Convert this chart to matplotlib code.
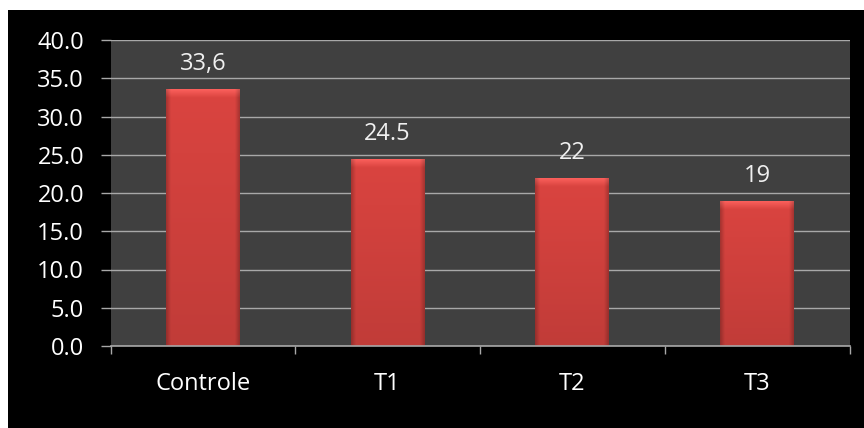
import matplotlib
matplotlib.use("Agg")
import matplotlib.pyplot as plt
import numpy as np
from matplotlib.patches import Rectangle

categories = ["Controle", "T1", "T2", "T3"]
values = [33.6, 24.5, 22, 19]
value_labels = ["33,6", "24.5", "22", "19"]
yticks = [0, 5, 10, 15, 20, 25, 30, 35, 40]
ytick_labels = ["0.0", "5.0", "10.0", "15.0", "20.0", "25.0", "30.0", "35.0", "40.0"]

plt.rcParams['font.family'] = ['Open Sans', 'DejaVu Sans']

fig = plt.figure(figsize=(8.64, 4.28), dpi=100)
fig.patch.set_facecolor("white")
bg = Rectangle((8/864, 0), 1, 1 - 10/428, transform=fig.transFigure,
               facecolor="black", edgecolor="none", zorder=-10)
fig.add_artist(bg)

ax = fig.add_axes([110.5/864, 1 - 346/428, (849.5 - 110.5)/864, (346 - 40)/428])
ax.set_zorder(1)
ax.set_facecolor("#404040")

x = np.arange(len(categories))
bw = 0.4
bars = ax.bar(x, values, width=bw, color="#d4413e", edgecolor="none", zorder=3)

# bevel/gradient shading for each bar
ny, nx = 200, 60
for b in bars:
    x0, y0 = b.get_x(), b.get_y()
    w, h = b.get_width(), b.get_height()
    base = np.array([212, 66, 62]) / 255.0
    xs = np.linspace(0, 1, nx)
    ys = np.linspace(0, 1, ny)  # 0 top, 1 bottom
    horiz = 1 - 0.22 * np.clip(1 - np.minimum(xs, 1 - xs) / 0.06, 0, 1)
    vert = 1.03 - 0.12 * ys
    img = base[None, None, :] * (horiz[None, :, None] * vert[:, None, None])
    px_h = h * 7.65
    bevel = 9.0 / max(px_h, 1)
    topmask = np.clip(1 - ys / bevel, 0, 1)[:, None]
    img = img + (np.array([0.14, 0.12, 0.12])[None, None, :] * topmask[..., None])
    img = np.clip(img, 0, 1)
    im = ax.imshow(img, extent=(x0, x0 + w, y0, y0 + h), aspect="auto",
                   zorder=4, interpolation="bilinear")
    im.set_clip_path(b)

ax.set_xlim(-0.5, len(categories) - 0.5)
ax.set_ylim(0, 40)
ax.set_yticks(yticks)
ax.set_yticklabels(ytick_labels)
ax.set_xticks(x)
ax.set_xticklabels(categories)
ax.set_xticks(np.arange(len(categories) + 1) - 0.5, minor=True)

ax.grid(axis="y", color="#a8a8a8", linewidth=1.0, zorder=1)
ax.set_axisbelow(True)
for s in ["left", "right", "top"]:
    ax.spines[s].set_visible(False)
ax.spines["bottom"].set_color("#a8a8a8")
ax.spines["bottom"].set_linewidth(1.2)
ax.spines["bottom"].set_zorder(5)

ax.tick_params(axis="y", colors="#a8a8a8", length=7.5, width=1.0, pad=11.5,
               labelcolor="white", labelsize=17)
ax.tick_params(axis="x", which="major", length=0, pad=19, labelcolor="white", labelsize=17)
ax.tick_params(axis="x", which="minor", length=6, width=1.0, color="#a8a8a8")

for b, lab in zip(bars, value_labels):
    ax.annotate(lab, (b.get_x() + b.get_width() / 2, b.get_height()),
                xytext=(0, 9), textcoords="offset points", ha="center", va="bottom",
                color="#f0f0f0", fontsize=17, zorder=6)

fig.savefig("out.png", dpi=100)
